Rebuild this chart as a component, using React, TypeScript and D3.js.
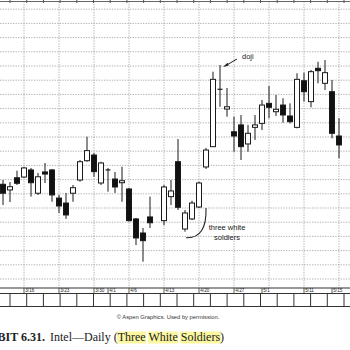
import React, { useLayoutEffect, useRef, useState } from "react";
import * as d3 from "d3";

// Trading days, 3/11 … 5/18 (4/10 market holiday: no candle)
const dates = [
  "3/11", "3/12", "3/13",
  "3/16", "3/17", "3/18", "3/19", "3/20",
  "3/23", "3/24", "3/25", "3/26", "3/27",
  "3/30", "3/31", "4/1", "4/2", "4/3",
  "4/6", "4/7", "4/8", "4/9", "4/10",
  "4/13", "4/14", "4/15", "4/16", "4/17",
  "4/20", "4/21", "4/22", "4/23", "4/24",
  "4/27", "4/28", "4/29", "4/30", "5/1",
  "5/4", "5/5", "5/6", "5/7", "5/8",
  "5/11", "5/12", "5/13", "5/14", "5/15",
  "5/18",
];

const opens = [
  72.67, 72.27, 73.13, 73.18, 73.68, 72.04, 73.54, 73.68, 71.70, 71.35,
  72.04, 72.97, 74.33, 74.73, 72.76, 73.68, 73.04, 72.78, 72.34, 70.23,
  69.24, 70.37, null, 70.11, 71.80, 74.26, 69.52, 70.23, 71.07, 73.89,
  75.32, 79.36, 77.97, 76.37, 76.85, 75.51, 76.68, 76.96, 78.37, 77.78,
  78.25, 77.48, 76.68, 79.96, 78.49, 80.84, 79.78, 79.19, 76.07,
];
const highs = [
  72.97, 72.83, 73.63, 73.89, 73.82, 73.46, 74.17, 73.75, 71.92, 72.06,
  72.62, 74.38, 76.02, 74.87, 74.26, 73.82, 73.54, 73.91, 72.41, 70.30,
  69.59, 71.80, null, 72.62, 72.97, 75.86, 70.86, 71.51, 72.85, 75.23,
  80.60, 81.07, 79.45, 77.43, 77.55, 76.85, 77.55, 78.61, 79.59, 78.96,
  78.73, 78.37, 80.49, 80.53, 80.72, 81.30, 81.42, 80.01, 77.32,
];
const lows = [
  71.21, 71.42, 72.62, 73.11, 71.80, 71.92, 72.76, 71.44, 70.65, 70.23,
  71.44, 72.85, 74.26, 73.20, 72.62, 72.15, 72.06, 71.44, 70.04, 68.39,
  67.22, 69.59, null, 69.80, 71.21, 70.86, 69.33, 70.15, 71.00, 73.75,
  75.30, 78.13, 77.43, 74.96, 74.38, 74.96, 75.79, 76.49, 77.32, 77.48,
  77.01, 76.96, 76.61, 78.49, 78.09, 79.78, 79.31, 75.91, 74.50,
];
const closes = [
  72.04, 72.50, 72.74, 73.82, 72.78, 73.20, 73.39, 71.92, 71.14, 70.51,
  72.43, 74.26, 75.04, 73.56, 74.17, 73.64, 72.48, 72.92, 70.11, 68.89,
  68.70, 69.96, null, 72.48, 72.20, 71.05, 70.65, 71.35, 72.76, 75.08,
  80.06, 79.34, 78.13, 76.07, 75.32, 76.26, 76.85, 78.25, 78.09, 77.95,
  77.55, 77.08, 80.06, 79.19, 80.60, 80.67, 80.53, 76.26, 75.44,
];

const priceGrid = [66, 67, 68, 69, 70, 71, 72, 73, 74, 75, 76, 77, 78, 79, 80, 81, 82, 83, 84, 85];
const gridDates = ["3/16", "3/23", "3/30", "4/6", "4/13", "4/20", "4/27", "5/4", "5/11", "5/18"];
const dateLabels = ["3/16", "3/23", "3/30", "4/1", "4/6", "4/13", "4/20", "4/27", "5/1", "5/11", "5/15"];
const soldierDates = ["4/16", "4/17", "4/20"];

const W = 350;
const H = 350;
const SANS = "'Liberation Sans', Arial, sans-serif";
const SERIF = "'Liberation Serif', 'Times New Roman', serif";

export default function App() {
  const x = d3.scaleLinear().domain([0, dates.length - 1]).range([3, 339]);
  const y = d3.scaleLinear().domain([66, 85]).range([279, 9.2]);

  const plotTop = 1.5;
  const axisY = 288;
  const rowTop = 293.5;
  const rowBottom = 306.5;
  const boxStep = 16.7;
  const boxes = d3.range(10, W, boxStep);

  const candles = dates
    .map((d, i) => ({ d, i, o: opens[i], h: highs[i], l: lows[i], c: closes[i] }))
    .filter((k) => k.o !== null);

  const bw = 5;

  // annotation anchors
  const dojiIdx = dates.indexOf("4/23");
  const dojiX = x(dojiIdx);
  const dojiY = y(highs[dojiIdx] as number);

  const s0 = dates.indexOf(soldierDates[0]);
  const s2 = dates.indexOf(soldierDates[2]);
  const arcStart: [number, number] = [x(s2) + 7, y(lows[s2] as number)];
  const arcEnd: [number, number] = [x(s0) + 1, y(lows[s0] as number) + 6];
  const arcPath = `M${arcStart[0]},${arcStart[1]} Q${arcStart[0] + 1},${arcEnd[1] + 1} ${arcEnd[0]},${arcEnd[1]}`;
  const labelX = x(s2) + 28;

  // caption highlight measurement
  const hl1 = useRef<SVGTSpanElement>(null);
  const hl2 = useRef<SVGTSpanElement>(null);
  const hl3 = useRef<SVGTSpanElement>(null);
  const [rects, setRects] = useState<{ x: number; w: number }[]>([]);
  useLayoutEffect(() => {
    const out: { x: number; w: number }[] = [];
    [hl1, hl2, hl3].forEach((r) => {
      if (r.current) {
        const b = r.current.getBBox();
        out.push({ x: b.x, w: b.width });
      }
    });
    setRects(out);
  }, []);

  return (
    <svg
      width={W}
      height={H}
      style={{ position: "absolute", left: 0, top: 0, background: "#fff" }}
    >
      <rect x={0} y={0} width={W} height={H} fill="#fff" />

      {/* horizontal grid */}
      {priceGrid.map((p) => (
        <line
          key={"h" + p}
          x1={0}
          x2={W}
          y1={y(p)}
          y2={y(p)}
          stroke="#9c9c9c"
          strokeWidth={0.8}
          strokeDasharray="1.3 1.3"
        />
      ))}
      {/* vertical grid */}
      {gridDates.map((d) => (
        <line
          key={"v" + d}
          x1={x(dates.indexOf(d))}
          x2={x(dates.indexOf(d))}
          y1={plotTop}
          y2={axisY}
          stroke="#9c9c9c"
          strokeWidth={0.8}
          strokeDasharray="1.3 1.3"
        />
      ))}

      {/* top border with small ticks */}
      <line x1={0} x2={W} y1={plotTop} y2={plotTop} stroke="#666" strokeWidth={1.2} />
      {boxes.map((bx) => (
        <line key={"t" + bx} x1={bx} x2={bx} y1={0} y2={3} stroke="#555" strokeWidth={1} />
      ))}

      {/* candles */}
      {candles.map((k) => {
        const cx = x(k.i);
        const up = (k.c as number) >= (k.o as number);
        const top = y(Math.max(k.o as number, k.c as number));
        const bot = y(Math.min(k.o as number, k.c as number));
        const hgt = Math.max(bot - top, 1);
        return (
          <g key={k.d}>
            <line x1={cx} x2={cx} y1={y(k.h as number)} y2={y(k.l as number)} stroke="#1a1a1a" strokeWidth={1} />
            {hgt <= 1.5 ? (
              <line x1={cx - bw / 2} x2={cx + bw / 2} y1={top} y2={top} stroke="#1a1a1a" strokeWidth={1.2} />
            ) : (
              <rect
                x={cx - bw / 2}
                y={top}
                width={bw}
                height={hgt}
                fill={up ? "#fff" : "#111"}
                stroke="#1a1a1a"
                strokeWidth={1}
              />
            )}
          </g>
        );
      })}

      {/* doji annotation */}
      <text x={dojiX + 22} y={dojiY - 6} fontFamily={SANS} fontSize={7.5} fill="#222">
        doji
      </text>
      <line x1={dojiX + 17} y1={dojiY - 6} x2={dojiX + 5} y2={dojiY + 1} stroke="#222" strokeWidth={1} />
      <path d={`M${dojiX + 3},${dojiY + 2} l4.5,-4.2 l1.2,2.6 z`} fill="#222" />

      {/* three white soldiers annotation */}
      <path d={arcPath} fill="none" stroke="#222" strokeWidth={1.1} />
      <text x={labelX} y={arcStart[1] + 22} textAnchor="middle" fontFamily={SANS} fontSize={7.5} fill="#222">
        three white
      </text>
      <text x={labelX} y={arcStart[1] + 32} textAnchor="middle" fontFamily={SANS} fontSize={7.5} fill="#222">
        soldiers
      </text>

      {/* axis + date row */}
      <line x1={0} x2={W} y1={axisY} y2={axisY} stroke="#333" strokeWidth={1.2} />
      <line x1={0} x2={W} y1={rowTop} y2={rowTop} stroke="#333" strokeWidth={1} />
      {dateLabels.map((d) => {
        const lx = x(dates.indexOf(d));
        return (
          <g key={"l" + d}>
            <line x1={lx} x2={lx} y1={axisY} y2={rowTop} stroke="#333" strokeWidth={0.8} />
            <text x={lx + 1.3} y={292.3} fontFamily={SANS} fontSize={4.6} fill="#222">
              {d}
            </text>
          </g>
        );
      })}
      <line x1={0} x2={W} y1={rowBottom} y2={rowBottom} stroke="#333" strokeWidth={1} />
      {boxes.map((bx) => (
        <line key={"b" + bx} x1={bx} x2={bx} y1={rowTop} y2={rowBottom} stroke="#333" strokeWidth={1} />
      ))}

      {/* credit */}
      <text x={168} y={319} textAnchor="middle" fontFamily={SANS} fontSize={5.8} fill="#333">
        © Aspen Graphics. Used by permission.
      </text>

      {/* caption */}
      {rects.map((r, i) => (
        <rect key={"hl" + i} x={r.x - 0.5} y={331.5} width={r.w + 1} height={12} fill="#fbf7a0" />
      ))}
      <text x={45} y={341} textAnchor="end" fontFamily={SERIF} fontSize={12} fontWeight="bold" fill="#222">
        EXHIBIT 6.31.
      </text>
      <text x={50} y={341} fontFamily={SERIF} fontSize={12} fill="#222">
        <tspan>Intel—Daily (</tspan>
        <tspan ref={hl1}>Three</tspan>
        <tspan> </tspan>
        <tspan ref={hl2}>White</tspan>
        <tspan> </tspan>
        <tspan ref={hl3}>Soldiers</tspan>
        <tspan>)</tspan>
      </text>
    </svg>
  );
}
